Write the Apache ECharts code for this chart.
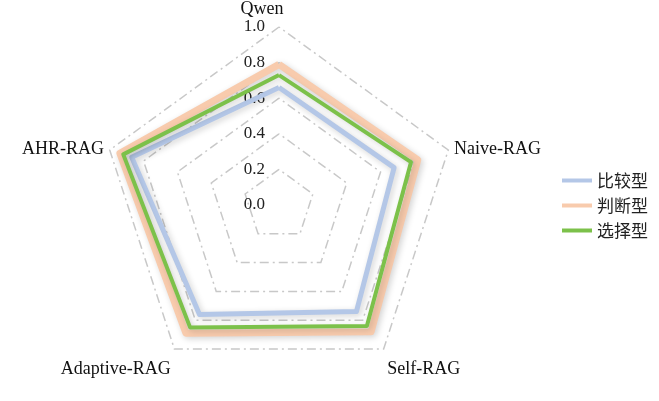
<!DOCTYPE html>
<html>
<head>
<meta charset="utf-8">
<script src="https://cdn.jsdelivr.net/npm/echarts@6/dist/echarts.min.js"></script>
<style>
html,body{margin:0;padding:0;background:#fff;}
#c{width:659px;height:401px;}
</style>
</head>
<body>
<div id="c"></div>
<script>
const indicators = ['Qwen', 'Naive-RAG', 'Self-RAG', 'Adaptive-RAG', 'AHR-RAG'];
const seriesNames = ['比较型', '判断型', '选择型'];
const compareVals = [0.66, 0.68, 0.74, 0.76, 0.87];
const judgeVals = [0.79, 0.82, 0.88, 0.89, 0.94];
const chooseVals = [0.73, 0.78, 0.84, 0.85, 0.92];
const axisMax = 1.0;
const splitCount = 5;

// ECharts lays indicators counter-clockwise; reorder to draw them clockwise
const order = [0, 4, 3, 2, 1];
const reorder = arr => order.map(i => arr[i]);

const colors = ['#b4c7e7', '#f8cbad', '#7cc14a'];
const widths = [5, 7, 4];

const chart = echarts.init(document.getElementById('c'), null, {renderer: 'canvas'});
const serif = '"Liberation Serif", "Times New Roman", serif';
const cjk = '"Noto Sans CJK SC", sans-serif';
const nameBase = {fontFamily: serif, fontSize: 18, color: '#111'};

const option = {
  backgroundColor: '#fff',
  animation: false,
  legend: {
    orient: 'vertical',
    right: 6,
    top: 167,
    itemGap: 8,
    itemWidth: 30,
    itemHeight: 4,
    icon: 'rect',
    textStyle: {fontFamily: cjk, fontSize: 17, color: '#222'},
    data: seriesNames
  },
  radar: {
    center: [279, 205],
    radius: 178,
    startAngle: 90,
    splitNumber: splitCount,
    shape: 'polygon',
    axisName: {
      fontFamily: serif, fontSize: 18, color: '#111',
      formatter: n => {
        if (n === 'Qwen') return '{q|' + n + '}';
        if (n === 'Self-RAG' || n === 'Adaptive-RAG') return '{b|' + n + '}';
        return '{s|' + n + '}';
      },
      rich: {
        q: Object.assign({padding: [0, 34, 0, 0]}, nameBase),
        b: Object.assign({padding: [30, 0, 0, 0]}, nameBase),
        s: Object.assign({padding: [3, 0, 0, 0]}, nameBase)
      }
    },
    nameGap: 6,
    axisLine: {show: false},
    axisTick: {show: false},
    splitArea: {show: false},
    splitLine: {lineStyle: {color: '#c8c8c8', width: 1.5, type: [9, 4, 2, 4]}},
    axisLabel: {show: false},
    indicator: reorder(indicators).map((n, i) => {
      const o = {name: n, min: 0, max: axisMax};
      if (i === 0) {
        o.axisLabel = {show: true, fontFamily: serif, fontSize: 17, color: '#222',
          formatter: v => v.toFixed(1), margin: 14, padding: [6, 0, 0, 0]};
      }
      return o;
    })
  },
  series: [{
    type: 'radar',
    symbol: 'none',
    data: [compareVals, judgeVals, chooseVals].map((vals, i) => ({
      name: seriesNames[i],
      value: reorder(vals),
      itemStyle: {color: colors[i]},
      lineStyle: {color: colors[i], width: widths[i],
        shadowBlur: 6, shadowColor: 'rgba(0,0,0,0.18)', shadowOffsetX: 2, shadowOffsetY: 2}
    }))
  }]
};
chart.setOption(option);
</script>
</body>
</html>
